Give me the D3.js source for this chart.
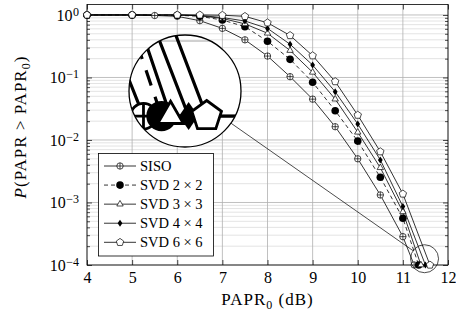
<!DOCTYPE html>
<html>
<head>
<meta charset="utf-8">
<script src="https://cdn.jsdelivr.net/npm/d3@7"></script>
<style>
  body { margin: 0; background: #fff; }
</style>
</head>
<body>
<div id="chart"></div>
<script>
// x values (dB) for each curve
const xSiso = [4, 5, 5.5, 6, 6.5, 7, 7.5, 8, 8.5, 9, 9.5, 10, 10.5, 11, 11.25];
const xSvd2 = [4, 5, 6, 6.5, 7, 7.5, 8, 8.5, 9, 9.5, 10, 10.5, 11, 11.35];
const xSvd3 = [4, 5, 6, 6.5, 7, 7.5, 8, 8.5, 9, 9.5, 10, 10.5, 11, 11.4];
const xSvd4 = [4, 5, 6, 6.5, 7, 7.5, 8, 8.5, 9, 9.5, 10, 10.5, 11, 11.5];
const xSvd6 = [4, 5, 6, 6.5, 7, 7.5, 8, 8.5, 9, 9.5, 10, 10.5, 11, 11.6];

// P(PAPR > PAPR0)
const pSiso = [1, 1, 0.98, 0.95, 0.81, 0.61, 0.40, 0.22, 0.103, 0.045, 0.0163, 0.005, 0.00132, 0.000284, 1e-4];
const pSvd2 = [1, 1, 0.99, 0.95, 0.83, 0.65, 0.38, 0.195, 0.084, 0.0294, 0.0096, 0.00253, 0.00056, 1e-4];
const pSvd3 = [1, 1, 1, 0.97, 0.88, 0.72, 0.51, 0.27, 0.121, 0.045, 0.0133, 0.0036, 0.00071, 1e-4];
const pSvd4 = [1, 1, 1, 0.98, 0.91, 0.80, 0.61, 0.34, 0.158, 0.059, 0.018, 0.0048, 0.00086, 1e-4];
const pSvd6 = [1, 1, 1, 1, 0.99, 0.95, 0.75, 0.47, 0.223, 0.086, 0.025, 0.0065, 0.00137, 1e-4];

const seriesNames = ["SISO", "SVD 2 × 2", "SVD 3 × 3", "SVD 4 × 4", "SVD 6 × 6"];
const xTicks = [4, 5, 6, 7, 8, 9, 10, 11, 12];
const yTicks = [1e-4, 1e-3, 1e-2, 1e-1, 1];
const yExps = ["−4", "−3", "−2", "−1", "0"];

const width = 456, height = 320;
const plotLeft = 87, plotRight = 448, plotTop = 4.5, plotBottom = 265;
const serif = "Liberation Serif";

const x = d3.scaleLinear().domain([4, 12]).range([plotLeft, plotRight]);
const y = d3.scaleLog().domain([1e-4, 1.47]).range([plotBottom, plotTop]);

const svg = d3.select("#chart").append("svg")
  .attr("width", width).attr("height", height)
  .attr("font-family", serif);

const series = [
  { xs: xSiso, ps: pSiso, mark: "oplus", dash: null },
  { xs: xSvd2, ps: pSvd2, mark: "dot", dash: "4,3" },
  { xs: xSvd3, ps: pSvd3, mark: "tri", dash: null },
  { xs: xSvd4, ps: pSvd4, mark: "diamond", dash: null },
  { xs: xSvd6, ps: pSvd6, mark: "penta", dash: null }
].map((s, i) => ({ ...s, name: seriesNames[i] }));

// minor ticks 2..9 of every decade
const yMinor = [];
yTicks.slice(0, -1).forEach(d => d3.range(2, 10).forEach(k => yMinor.push(d * k)));

function poly(n, r, rot) {
  const pts = d3.range(n).map(i => {
    const a = (rot + i * 360 / n) * Math.PI / 180;
    return [r * Math.cos(a), r * Math.sin(a)];
  });
  return "M" + pts.join("L") + "Z";
}

function addMarker(g, type) {
  if (type === "oplus") {
    g.append("circle").attr("r", 3.2).attr("fill", "#fff").attr("stroke", "#000").attr("stroke-width", 0.7);
    g.append("path").attr("d", "M-3.2,0H3.2M0,-3.2V3.2").attr("stroke", "#000").attr("stroke-width", 0.7);
  } else if (type === "dot") {
    g.append("circle").attr("r", 3.8).attr("fill", "#000");
  } else if (type === "tri") {
    g.append("path").attr("d", poly(3, 3.7, -90)).attr("fill", "#fff").attr("stroke", "#000").attr("stroke-width", 0.7);
  } else if (type === "diamond") {
    g.append("path").attr("d", "M0,-3.5L2.4,0L0,3.5L-2.4,0Z").attr("fill", "#000");
  } else {
    g.append("path").attr("d", poly(5, 3.9, -90)).attr("fill", "#fff").attr("stroke", "#000").attr("stroke-width", 0.7);
  }
}

// everything inside the axis box, reused for the magnified view
const plot = svg.append("g").attr("id", "plotContent");

plot.append("rect").attr("x", plotLeft).attr("y", plotTop)
  .attr("width", plotRight - plotLeft).attr("height", plotBottom - plotTop).attr("fill", "#fff");

// grid
plot.append("g").selectAll("line").data(yMinor).join("line")
  .attr("x1", plotLeft).attr("x2", plotRight).attr("y1", d => y(d)).attr("y2", d => y(d))
  .attr("stroke", "#d0d0d0").attr("stroke-width", 0.6);
plot.append("g").selectAll("line").data(yTicks).join("line")
  .attr("x1", plotLeft).attr("x2", plotRight).attr("y1", d => y(d)).attr("y2", d => y(d))
  .attr("stroke", "#b0b0b0").attr("stroke-width", 0.8);
plot.append("g").selectAll("line").data(xTicks).join("line")
  .attr("y1", plotTop).attr("y2", plotBottom).attr("x1", d => x(d)).attr("x2", d => x(d))
  .attr("stroke", "#b0b0b0").attr("stroke-width", 0.8);

// inward ticks on all four sides
function tickStyle(g) {
  g.select(".domain").remove();
  g.selectAll(".tick line").attr("stroke", "#000").attr("stroke-width", 0.7);
  g.selectAll(".tick text").remove();
}
plot.append("g").attr("transform", `translate(0,${plotBottom})`)
  .call(d3.axisBottom(x).tickValues(xTicks).tickSize(-5)).call(tickStyle);
plot.append("g").attr("transform", `translate(0,${plotTop})`)
  .call(d3.axisTop(x).tickValues(xTicks).tickSize(-5)).call(tickStyle);
plot.append("g").attr("transform", `translate(${plotLeft},0)`)
  .call(d3.axisLeft(y).tickValues(yTicks).tickSize(-5)).call(tickStyle);
plot.append("g").attr("transform", `translate(${plotLeft},0)`)
  .call(d3.axisLeft(y).tickValues(yMinor).tickSize(-3)).call(tickStyle);
plot.append("g").attr("transform", `translate(${plotRight},0)`)
  .call(d3.axisRight(y).tickValues(yTicks).tickSize(-5)).call(tickStyle);
plot.append("g").attr("transform", `translate(${plotRight},0)`)
  .call(d3.axisRight(y).tickValues(yMinor).tickSize(-3)).call(tickStyle);

plot.append("rect").attr("x", plotLeft).attr("y", plotTop)
  .attr("width", plotRight - plotLeft).attr("height", plotBottom - plotTop)
  .attr("fill", "none").attr("stroke", "#000").attr("stroke-width", 0.8);

// curves
const line = d3.line().x(d => x(d[0])).y(d => y(d[1]));
series.forEach(s => {
  const pts = s.xs.map((v, i) => [v, s.ps[i]]);
  plot.append("path").datum(pts).attr("d", line)
    .attr("fill", "none").attr("stroke", "#000").attr("stroke-width", 0.8)
    .attr("stroke-dasharray", s.dash);
});
series.forEach(s => {
  const pts = s.xs.map((v, i) => [v, s.ps[i]]);
  plot.append("g").selectAll("g").data(pts).join("g")
    .attr("transform", d => `translate(${x(d[0])},${y(d[1])})`)
    .each(function () { addMarker(d3.select(this), s.mark); });
});

// tick labels
const xAxisLabels = svg.append("g").attr("transform", `translate(0,${plotBottom})`)
  .call(d3.axisBottom(x).tickValues(xTicks).tickSize(0).tickPadding(7).tickFormat(d3.format("d")))
  .attr("font-family", serif).attr("font-size", 16);
xAxisLabels.select(".domain").remove();

const yAxisLabels = svg.append("g").attr("transform", `translate(${plotLeft},0)`)
  .call(d3.axisLeft(y).tickValues(yTicks).tickSize(0).tickPadding(8).tickFormat(() => ""))
  .attr("font-family", serif).attr("font-size", 16);
yAxisLabels.select(".domain").remove();
yAxisLabels.selectAll("text")
  .each(function (d, i) {
    const t = d3.select(this);
    t.append("tspan").text("10");
    t.append("tspan").attr("dx", 0.5).attr("dy", "-0.42em").attr("font-size", 12).text(yExps[i]);
  });

// axis titles (a little letter spacing to get closer to the wider TeX font)
const xt = svg.append("text").attr("x", (plotLeft + plotRight) / 2).attr("y", 305)
  .attr("text-anchor", "middle").attr("font-size", 17).attr("letter-spacing", 1);
xt.append("tspan").text("PAPR");
xt.append("tspan").attr("dy", 3.5).attr("font-size", 12).text("0");
xt.append("tspan").attr("dy", -3.5).text(" (dB)");

const yt = svg.append("text").attr("transform", "translate(26,127) rotate(-90)")
  .attr("text-anchor", "middle").attr("font-size", 17).attr("letter-spacing", 1);
yt.append("tspan").attr("font-style", "italic").text("P");
yt.append("tspan").text("(PAPR > PAPR");
yt.append("tspan").attr("dy", 3.5).attr("font-size", 12).text("0");
yt.append("tspan").attr("dy", -3.5).text(")");

// magnified view of the curve ends
const mag = 4;
const bigR = 56, smallR = bigR / mag;
const bigC = [185, 91];
const smallC = [x(11.48), y(1.26e-4)];

const spy = svg.append("g");
spy.append("circle").attr("cx", smallC[0]).attr("cy", smallC[1]).attr("r", smallR)
  .attr("fill", "none").attr("stroke", "#000").attr("stroke-width", 0.7);
const dx = smallC[0] - bigC[0], dy = smallC[1] - bigC[1];
const dist = Math.hypot(dx, dy);
spy.append("line")
  .attr("x1", bigC[0] + dx / dist * bigR).attr("y1", bigC[1] + dy / dist * bigR)
  .attr("x2", smallC[0] - dx / dist * smallR).attr("y2", smallC[1] - dy / dist * smallR)
  .attr("stroke", "#000").attr("stroke-width", 0.7);

svg.append("defs").append("clipPath").attr("id", "spyClip")
  .append("circle").attr("cx", bigC[0]).attr("cy", bigC[1]).attr("r", bigR);
spy.append("circle").attr("cx", bigC[0]).attr("cy", bigC[1]).attr("r", bigR).attr("fill", "#fff");
spy.append("g").attr("clip-path", "url(#spyClip)")
  .append("use").attr("href", "#plotContent")
  .attr("transform", `translate(${bigC[0]},${bigC[1]}) scale(${mag}) translate(${-smallC[0]},${-smallC[1]})`);
spy.append("circle").attr("cx", bigC[0]).attr("cy", bigC[1]).attr("r", bigR)
  .attr("fill", "none").attr("stroke", "#000").attr("stroke-width", 1.3);

// legend
const legend = svg.append("g").attr("font-size", 14.5);
legend.append("rect").attr("x", 98.5).attr("y", 153.5).attr("width", 115).attr("height", 102.5)
  .attr("fill", "#fff").attr("stroke", "#000").attr("stroke-width", 0.8);
const ly = d3.scaleLinear().domain([0, 4]).range([166, 242.3]);
series.forEach((s, i) => {
  const row = legend.append("g").attr("transform", `translate(0,${ly(i)})`);
  row.append("line").attr("x1", 104).attr("x2", 136)
    .attr("stroke", "#000").attr("stroke-width", 0.8).attr("stroke-dasharray", s.dash);
  addMarker(row.append("g").attr("transform", "translate(120,0)"), s.mark);
  row.append("text").attr("x", 140).attr("y", 4.8).text(s.name);
});
</script>
</body>
</html>
